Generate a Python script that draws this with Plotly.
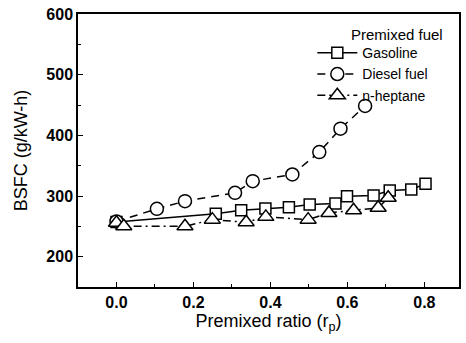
import plotly.graph_objects as go

gas_x = [0.0, 0.258, 0.324, 0.387, 0.448, 0.502, 0.569, 0.599, 0.668, 0.71, 0.766, 0.803]
gas_y = [257, 270.6, 276.6, 279.3, 281.5, 286, 287.6, 299.7, 300.8, 309, 310.7, 320]

die_x = [0.0, 0.105, 0.178, 0.308, 0.354, 0.457, 0.527, 0.582, 0.646]
die_y = [258, 278.8, 291.5, 305.2, 324.5, 335.5, 372.4, 411, 448.5]

hep_x = [0.0, 0.019, 0.178, 0.249, 0.337, 0.388, 0.498, 0.552, 0.616, 0.68, 0.706]
hep_y = [256, 250, 250, 261, 256.7, 265.6, 261, 272, 276.5, 280.5, 297]

legend_title = "Premixed fuel"

FONT = "Liberation Sans, Arial, sans-serif"

fig = go.Figure()
fig.add_trace(go.Scatter(
    x=gas_x, y=gas_y, name="Gasoline", mode="lines+markers",
    line=dict(color="black", width=1.5, dash="solid"),
    marker=dict(symbol="square", size=11, color="white", line=dict(color="black", width=1.5)),
))
fig.add_trace(go.Scatter(
    x=die_x, y=die_y, name="Diesel fuel", mode="lines+markers",
    line=dict(color="black", width=1.5, dash="8px,6px"),
    marker=dict(symbol="circle", size=13, color="white", line=dict(color="black", width=1.5)),
))
fig.add_trace(go.Scatter(
    x=hep_x, y=hep_y, name="n-heptane", mode="lines+markers",
    line=dict(color="black", width=1.5, dash="8px,4px,2px,4px"),
    marker=dict(symbol="triangle-up", size=14, color="white", line=dict(color="black", width=1.5)),
))

axis_common = dict(
    showline=True, linecolor="black", linewidth=1.5, mirror=True,
    ticks="inside", ticklen=5, tickwidth=1, tickcolor="black",
    showgrid=False, zeroline=False,
    tickfont=dict(family=FONT, size=16, color="black", weight="bold"),
)

fig.update_xaxes(
    range=[-0.1, 0.89], tickvals=[0.0, 0.2, 0.4, 0.6, 0.8], ticktext=["0.0", "0.2", "0.4", "0.6", "0.8"],
    minor=dict(ticks="inside", ticklen=3, tickcolor="black", dtick=0.1, tick0=0.1),
    title=dict(text="Premixed ratio (r<sub>p</sub>)", font=dict(family=FONT, size=18, color="black"), standoff=4),
    **axis_common,
)
fig.update_yaxes(
    range=[150, 600], tickvals=[200, 300, 400, 500, 600],
    minor=dict(ticks="inside", ticklen=3, tickcolor="black", dtick=50, tick0=150),
    title=dict(text="BSFC (g/kW-h)", font=dict(family=FONT, size=18, color="black"), standoff=14),
    **axis_common,
)

fig.add_annotation(
    text=legend_title, xref="paper", yref="paper",
    x=(447 - 78) / 383, y=1 - (35 - 14) / 273, xanchor="right", yanchor="middle",
    showarrow=False, font=dict(family=FONT, size=15, color="black"),
)

fig.update_layout(
    width=466, height=343,
    margin=dict(l=78, r=5, t=14, b=56),
    paper_bgcolor="white", plot_bgcolor="white",
    font=dict(family=FONT, color="black"),
    legend=dict(
        x=0.615, y=0.915, xanchor="left", yanchor="top",
        bgcolor="rgba(0,0,0,0)", borderwidth=0,
        font=dict(family=FONT, size=14, color="black"),
        tracegroupgap=0, itemwidth=40,
    ),
    showlegend=True,
)

fig.write_html("out.html")
